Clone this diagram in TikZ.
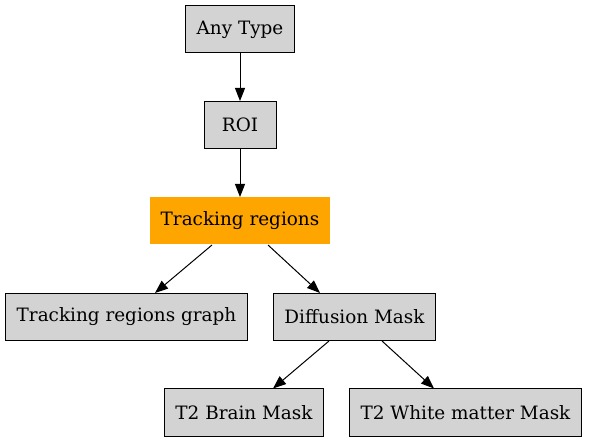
\documentclass[tikz,border=0pt]{standalone}
\usepackage{fontspec}
\setmainfont{DejaVu Serif}
\usetikzlibrary{arrows.meta}
\definecolor{boxgray}{RGB}{211, 211, 211}
\definecolor{trackorange}{RGB}{255, 165, 0}

\begin{document}
\begin{tikzpicture}[
      x=1pt, y=-1pt,
      box/.style={draw=black, fill=boxgray, line width=1pt,
                  minimum height=47pt, minimum width=72pt,
                  inner xsep=11pt, inner ysep=0pt,
                  font=\fontsize{18.4}{21}\selectfont, anchor=center},
      hot/.style={box, draw=none, fill=trackorange},
      link/.style={line width=1pt,
                   -{Triangle[length=13pt, width=10pt]}},
    ]
    \useasboundingbox (0,0) rectangle (589,443);
    %% nodes, one row per rank
    \node[box] (anytype) at (240, 29.5) {Any Type};
    \node[box] (roi)     at (240,125)   {ROI};
    \node[hot] (track)   at (240,221)   {Tracking regions};
    \node[box] (graph)   at (126.5,317) {Tracking regions graph};
    \node[box] (diff)    at (354.5,317) {Diffusion Mask};
    \node[box] (brain)   at (244,412.5) {T2 Brain Mask};
    \node[box] (white)   at (465.5,412.5) {T2 White matter Mask};
    %% edges
    \draw[link] (anytype.south) -- (roi.north);
    \draw[link] (roi.south) -- (track.north);
    \draw[link] ([xshift=-28pt]track.south) -- ([xshift=28.5pt]graph.north);
    \draw[link] ([xshift=28pt]track.south) -- ([xshift=-34.5pt]diff.north);
    \draw[link] ([xshift=-25.5pt]diff.south) -- ([xshift=29pt]brain.north);
    \draw[link] ([xshift=27.5pt]diff.south) -- ([xshift=-31.5pt]white.north);
\end{tikzpicture}
\end{document}
